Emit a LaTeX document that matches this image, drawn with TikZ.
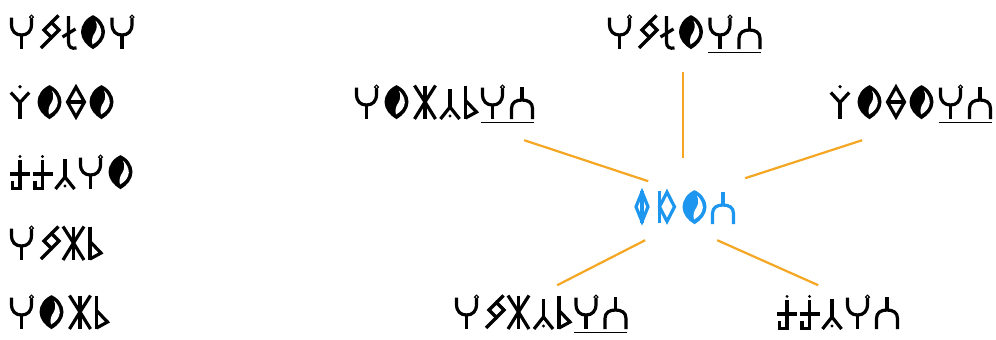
\documentclass[tikz,border=0pt]{standalone}
\usetikzlibrary{calc}
\definecolor{rootblue}{RGB}{28,150,238}
\definecolor{linkorange}{RGB}{245,166,35}
\def\gadvP{30}\def\gadvuP{30}\def\gadvS{22.5}\def\gadvL{19}\def\gadvO{29}
\def\gadvY{28}\def\gadvD{23}\def\gadvT{22.5}\def\gadvA{24}\def\gadvZ{26}
\def\gadvB{17}\def\gadvN{24}\def\gadvuN{24}\def\gadvQ{22}\def\gadvK{25}
\newcommand\shapeP{%
  \draw[gl] (1.5,2.5) -- (1.5,9) .. controls (1.5,16.5) and (5.5,20) .. (11.5,20) .. controls (17.5,20) and (21.5,16.5) .. (21.5,9) -- (21.5,4.2);
  \draw[gl] (11.5,20) -- (11.5,34);
  \draw[line width=1.1pt, fill=white] (21.5,2.1) circle (1.9);}
\newcommand\shapeN{%
  \draw[gl] (11,2) -- (11,15);
  \draw[gl] (0.5,34) -- (0.5,23.5) .. controls (0.5,17.5) and (5,15) .. (11,15) .. controls (17,15) and (21.5,17.5) .. (21.5,23.5) -- (21.5,34);}
\tikzset{
  gl/.style={line width=3.2pt, line cap=butt, line join=round},
  glm/.style={gl, line join=miter},
  ul/.style={line width=1.5pt},
  conn/.style={draw=linkorange, line width=2.2pt},
  wordbox/.style={inner sep=0pt, minimum height=34pt, anchor=north west},
  pics/gP/.style={code={\shapeP}},
  pics/guP/.style={code={\shapeP \draw[ul] (-0.5,37.5) -- (30,37.5);}},
  pics/gN/.style={code={\shapeN}},
  pics/guN/.style={code={\shapeN \draw[ul] (0,37.5) -- (22.5,37.5);}},
  pics/gS/.style={code={
    \draw[glm] (4,15) -- (11.5,22.5) -- (19,15) -- (11.5,7.5) -- cycle;
    \draw[gl] (11.5,7.5) -- (18.5,0.5);
    \draw[gl] (11.5,22.5) -- (1,33);}},
  pics/gL/.style={code={
    \draw[gl] (6,1) -- (6,27) .. controls (6,32) and (9,34) .. (14,33);
    \draw[gl] (0,22) -- (13,14);}},
  pics/gO/.style={code={
    \fill (11.5,0.2) .. controls (19,3.5) and (23.5,10.5) .. (23.5,17) .. controls (23.5,24) and (18,30.5) .. (11.5,34.2) .. controls (5,30.5) and (-0.5,24) .. (-0.5,17) .. controls (-0.5,10.5) and (4,3.5) .. cycle;
    \fill[white] (14,5.5) .. controls (17.5,9) and (19.8,13) .. (19.8,17.5) .. controls (19.8,22.5) and (15.5,27) .. (11,29.5) .. controls (9.5,24.5) and (11.5,20.5) .. (13.5,17.5) .. controls (15.5,14) and (16,10) .. cycle;}},
  pics/gY/.style={code={
    \fill (10,1.7) circle (1.8);
    \draw[gl] (0.8,7.5) -- (10,17.5) -- (19.2,7.5);
    \draw[gl] (10,17.5) -- (10,34);}},
  pics/gD/.style={code={
    \draw[glm] (9,2) -- (17.5,17) -- (9,32) -- (0.5,17) -- cycle;
    \draw[gl] (0.5,17) -- (17.5,17);}},
  pics/gT/.style={code={
    \fill (10,1.4) circle (1.6);
    \draw[glm] (10,5) -- (10,33.5) -- (2.5,33.5) -- (2.5,26);
    \draw[gl] (0,19) -- (20,19);}},
  pics/gA/.style={code={
    \draw[gl] (10,4) -- (10,22);
    \draw[gl] (0.5,34) -- (10,22) -- (19.5,34);
    \fill (10,31) circle (1.6);}},
  pics/gZ/.style={code={
    \draw[gl] (11,0.5) -- (11,34);
    \draw[gl] (0.5,0.5) -- (11,17) -- (21.5,0.5);
    \draw[gl] (0.5,34) -- (11,17) -- (21.5,34);}},
  pics/gB/.style={code={
    \draw[gl] (1.5,0.5) -- (1.5,34);
    \draw[glm] (1.5,15.5) -- (12.5,27) -- (1.5,33);}},
  pics/gQ/.style={code={
    \draw[gl] (6,0.5) -- (6,33);
    \draw[glm] (6,2) -- (12,16.8) -- (6,31.5) -- (0,16.8) -- cycle;}},
  pics/gK/.style={code={
    \draw[gl] (1.5,0.5) -- (1.5,33);
    \draw[glm] (1.5,16.8) -- (9,2.2) -- (16.5,16.8) -- (9,31.4) -- cycle;}},
}
% #1 node name, #2 left x, #3 top y, #4 glyph list
\newcommand\glyphword[4]{%
  \xdef\gwx{0}%
  \foreach \g in {#4} {%
    \pgfmathsetmacro\gwpos{#2+\gwx}%
    \edef\gwcall{\noexpand\pic at (\gwpos,#3) {g\g};}\gwcall
    \pgfmathsetmacro\gwtmp{\gwx+\csname gadv\g\endcsname}%
    \xdef\gwx{\gwtmp}%
  }%
  \pgfmathsetmacro\gwwid{\gwx-2}%
  \node[wordbox, minimum width=\gwwid pt] (#1) at (#2,#3) {};%
}
\begin{document}
\begin{tikzpicture}[x=1pt,y=-1pt]
\useasboundingbox (0,0) rectangle (996,340);
\fill[white] (0,0) rectangle (996,340);
% left column
\glyphword{l1}{10}{15}{P,S,L,O,P}
\glyphword{l2}{10}{85}{Y,O,D,O}
\glyphword{l3}{10}{155}{T,T,A,P,O}
\glyphword{l4}{10}{226}{P,S,Z,B}
\glyphword{l5}{10}{295}{P,O,Z,B}
% derived words
\glyphword{wtop}{608}{15}{P,S,L,O,uP,uN}
\glyphword{wul}{355}{85}{P,O,Z,A,B,uP,uN}
\glyphword{wur}{830}{85}{Y,O,D,O,uP,uN}
\glyphword{wll}{455}{295}{P,S,Z,A,B,uP,uN}
\glyphword{wlr}{777}{295}{T,T,A,P,N}
% root
\begin{scope}[color=rootblue]
\glyphword{root}{636}{190}{Q,K,O,N}
\end{scope}
% connectors
\draw[conn] ($(wtop.center)+(-1.25,40)$) -- ($(root.center)+(-2,-49)$);
\draw[conn] ($(wul.center)+(80,38)$) -- ($(root.center)+(-37,-26)$);
\draw[conn] ($(wur.center)+(-48.5,38)$) -- ($(root.center)+(60,-29)$);
\draw[conn] ($(wll.center)+(16.25,-27)$) -- ($(root.center)+(-40,33)$);
\draw[conn] ($(wlr.center)+(-19.5,-27)$) -- ($(root.center)+(32,33)$);
\end{tikzpicture}
\end{document}
